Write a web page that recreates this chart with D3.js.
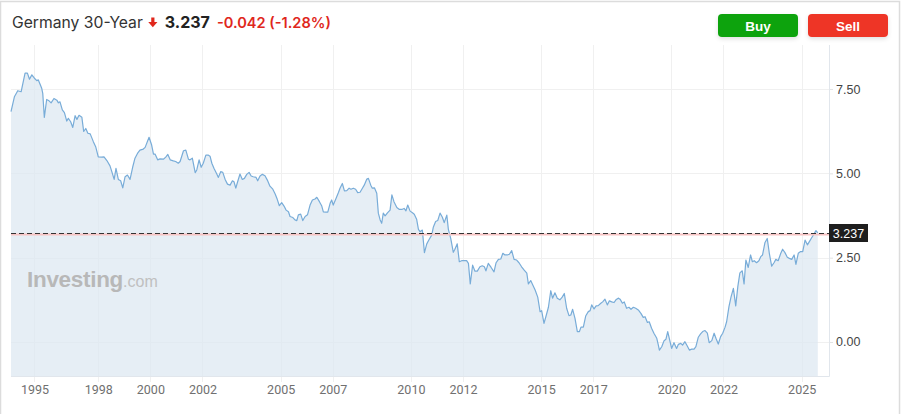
<!DOCTYPE html>
<html>
<head>
<meta charset="utf-8">
<script src="https://cdn.jsdelivr.net/npm/d3@7/dist/d3.min.js"></script>
<style>
  html, body { margin: 0; padding: 0; background: #fff; }
  svg { display: block; }
</style>
</head>
<body>
<svg id="chart" width="910" height="414"></svg>
<script>
// ---------------- DATA ----------------
const title = "Germany 30-Year";
const lastValue = 3.237;
const change = "-0.042";
const changePct = "(-1.28%)";

// decimal years
const years = [
1994.65,1994.78,1994.91,1995.04,1995.19,1995.28,1995.36,1995.45,1995.55,1995.64,1995.70,1995.83,1995.87,1995.93,
1996.02,1996.11,1996.19,1996.30,1996.41,1996.47,1996.53,1996.62,1996.70,1996.79,1996.85,1996.94,
1997.02,1997.11,1997.18,1997.26,1997.37,1997.44,1997.52,1997.60,1997.69,1997.81,1997.90,
1998.00,1998.13,1998.22,1998.33,1998.45,1998.52,1998.61,1998.68,1998.77,1998.86,1998.94,
1999.03,1999.12,1999.22,1999.32,1999.41,1999.52,1999.60,1999.73,1999.80,1999.95,
2000.05,2000.12,2000.18,2000.28,2000.37,2000.50,2000.59,2000.67,2000.76,2000.88,2000.97,
2001.07,2001.14,2001.27,2001.36,2001.46,2001.52,2001.61,2001.72,2001.78,2001.87,2001.95,
2002.03,2002.13,2002.23,2002.29,2002.36,2002.44,2002.55,2002.61,2002.70,2002.78,2002.87,2002.96,
2003.06,2003.15,2003.21,2003.28,2003.35,2003.44,2003.53,2003.61,2003.70,2003.79,2003.87,2003.95,
2004.06,2004.12,2004.21,2004.30,2004.40,2004.49,2004.59,2004.70,2004.79,2004.87,2004.95,
2005.04,2005.13,2005.21,2005.30,2005.36,2005.47,2005.55,2005.62,2005.68,2005.77,2005.85,2005.94,
2006.03,2006.13,2006.22,2006.32,2006.39,2006.49,2006.58,2006.64,2006.74,2006.81,2006.90,2006.96,
2007.02,2007.13,2007.22,2007.28,2007.37,2007.45,2007.54,2007.63,2007.70,2007.79,2007.88,2007.96,
2008.05,2008.14,2008.21,2008.31,2008.37,2008.46,2008.52,2008.60,2008.69,2008.75,2008.82,2008.88,2008.94,
2009.01,2009.10,2009.20,2009.27,2009.35,2009.46,2009.56,2009.65,2009.74,2009.81,2009.88,2009.97,
2010.06,2010.13,2010.22,2010.29,2010.35,2010.44,2010.52,2010.61,2010.70,2010.80,2010.86,2010.95,
2011.03,2011.12,2011.21,2011.28,2011.38,2011.44,2011.53,2011.63,2011.69,2011.78,2011.86,2011.95,
2012.05,2012.14,2012.21,2012.28,2012.37,2012.46,2012.55,2012.65,2012.74,2012.82,2012.88,2012.97,
2013.08,2013.19,2013.27,2013.36,2013.45,2013.53,2013.61,2013.70,2013.78,2013.87,2013.96,
2014.06,2014.15,2014.25,2014.35,2014.45,2014.51,2014.60,2014.68,2014.77,2014.87,2014.96,
2015.02,2015.11,2015.19,2015.28,2015.37,2015.44,2015.53,2015.62,2015.72,2015.81,2015.89,2015.98,
2016.07,2016.14,2016.21,2016.30,2016.39,2016.47,2016.53,2016.62,2016.71,2016.81,2016.88,2016.94,
2017.03,2017.11,2017.19,2017.29,2017.36,2017.45,2017.54,2017.62,2017.71,2017.80,2017.87,2017.96,
2018.03,2018.12,2018.19,2018.28,2018.37,2018.45,2018.54,2018.63,2018.73,2018.83,2018.92,2018.99,
2019.08,2019.15,2019.24,2019.33,2019.44,2019.50,2019.54,2019.63,2019.72,2019.79,2019.86,2019.95,
2020.01,2020.10,2020.20,2020.27,2020.36,2020.43,2020.52,2020.61,2020.69,2020.78,2020.87,2020.94,
2021.03,2021.12,2021.20,2021.29,2021.38,2021.45,2021.55,2021.64,2021.71,2021.80,2021.89,2021.97,
2022.06,2022.12,2022.21,2022.29,2022.38,2022.47,2022.55,2022.63,2022.72,2022.79,2022.86,2022.95,
2023.04,2023.11,2023.18,2023.27,2023.36,2023.43,2023.50,2023.59,2023.68,2023.76,2023.85,2023.94,
2024.01,2024.10,2024.20,2024.27,2024.36,2024.45,2024.53,2024.62,2024.71,2024.78,2024.87,2024.96,
2025.04,2025.13,2025.22,2025.29,2025.39,2025.47,2025.55,2025.62
];
const yields = [
6.83,7.27,7.45,7.42,7.97,7.97,7.79,7.92,7.82,7.75,7.77,7.52,7.37,6.66,
7.19,7.15,7.09,7.22,7.17,7.09,7.12,6.88,6.80,6.55,6.63,6.53,
6.36,6.71,6.60,6.72,6.66,6.24,6.33,6.19,6.17,5.94,5.79,
5.49,5.48,5.49,5.38,5.22,5.05,4.82,5.15,4.82,4.78,4.57,
4.90,4.95,4.82,5.18,5.45,5.61,5.69,5.72,5.77,6.07,
5.84,5.57,5.57,5.40,5.43,5.42,5.48,5.56,5.40,5.37,5.35,
5.30,5.35,5.67,5.69,5.42,5.40,5.45,5.02,5.10,5.40,5.18,
5.30,5.54,5.54,5.51,5.30,5.15,4.98,4.88,5.05,5.03,4.82,4.68,
4.65,4.78,4.75,4.56,4.75,4.98,4.82,4.85,4.97,5.03,4.92,4.90,
4.88,4.78,4.92,4.97,4.93,4.80,4.62,4.53,4.39,4.23,4.04,
4.13,4.03,3.91,3.86,3.72,3.69,3.62,3.60,3.77,3.79,3.60,3.72,
3.77,4.06,4.21,4.24,4.29,4.16,4.03,3.86,3.85,3.85,4.11,4.21,
4.06,4.26,4.43,4.56,4.70,4.48,4.49,4.56,4.53,4.56,4.53,4.43,
4.44,4.56,4.65,4.83,4.85,4.65,4.56,4.57,4.41,3.82,3.62,3.52,3.82,
3.74,3.83,3.91,4.36,4.16,3.99,3.93,3.93,3.96,3.89,4.06,3.88,
3.83,3.79,3.64,3.34,3.27,3.32,2.65,2.91,3.04,3.17,3.40,3.57,
3.60,3.82,3.70,3.54,3.76,3.34,3.07,2.66,2.75,2.91,2.38,2.41,
2.41,2.41,2.33,1.72,2.28,2.10,2.10,2.23,2.26,2.23,2.11,2.33,
2.21,2.08,2.35,2.45,2.46,2.63,2.58,2.58,2.60,2.71,2.45,
2.43,2.35,2.23,2.13,2.04,1.72,1.82,1.69,1.54,1.33,0.90,
0.93,0.55,0.77,1.03,1.52,1.30,1.46,1.30,1.25,1.33,1.44,1.00,
0.78,0.80,0.97,0.70,0.31,0.31,0.44,0.44,0.77,0.90,0.93,1.10,
0.98,1.07,1.08,1.15,1.19,1.27,1.10,1.22,1.19,1.17,1.25,1.30,
1.27,1.15,1.19,1.00,1.03,0.97,1.03,1.00,0.95,0.85,0.73,0.75,
0.58,0.60,0.41,0.26,0.11,-0.09,-0.24,-0.14,0.04,0.08,0.31,0.01,
-0.19,-0.02,-0.19,-0.07,-0.04,-0.09,0.01,-0.12,-0.24,-0.21,-0.21,-0.14,
0.14,0.24,0.31,0.34,0.26,-0.02,0.04,0.26,0.11,-0.06,0.16,0.26,
0.44,0.60,1.05,1.34,1.59,1.07,1.64,2.05,2.11,1.72,2.43,2.21,
2.58,2.38,2.41,2.35,2.41,2.53,2.58,2.94,3.07,2.63,2.25,2.35,
2.45,2.41,2.63,2.75,2.65,2.51,2.48,2.45,2.58,2.30,2.63,2.68,
2.68,3.02,2.88,2.97,3.10,3.20,3.30,3.237
];

const xTickYears  = [1995.55, 1998, 2000, 2002, 2005, 2007, 2010, 2012, 2015, 2017, 2020, 2022, 2025];
const xTickLabels = ["1995","1998","2000","2002","2005","2007","2010","2012","2015","2017","2020","2022","2025"];
const yTicks = [0, 2.5, 5, 7.5];
const xDomainEndYear = 2026.05;

// ---------------- HELPERS ----------------
function yearToDate(y) {
  const yr = Math.floor(y);
  const start = Date.UTC(yr, 0, 1), end = Date.UTC(yr + 1, 0, 1);
  return new Date(start + (y - yr) * (end - start));
}
const data = years.map((y, i) => ({ date: yearToDate(y), value: yields[i] }));

// ---------------- LAYOUT ----------------
const svg = d3.select("#chart");
const plot = { left: 11, right: 829, top: 45, bottom: 376 };

const x = d3.scaleUtc()
  .domain([data[0].date, yearToDate(xDomainEndYear)])
  .range([plot.left, plot.right]);
const y = d3.scaleLinear()
  .domain([-1.008, 8.805])
  .range([plot.bottom, plot.top]);

// card border
svg.append("rect").attr("x", 0.5).attr("y", 1.5).attr("width", 899).attr("height", 430)
  .attr("fill", "#fff").attr("stroke", "#dcdcdc").attr("stroke-width", 1.5);

// ---------------- HEADER ----------------
const hdr = svg.append("g").attr("font-family", "Inter, 'Noto Sans', Arial, sans-serif");
const t1 = hdr.append("text").attr("x", 12).attr("y", 28).attr("font-size", 15.7)
  .attr("fill", "#333").text(title);
const w1 = t1.node().getComputedTextLength();
const ax = 12 + w1 + 10;
// down arrow
hdr.append("path")
  .attr("d", `M${ax-1.6},17.5 h3.2 v4.5 h3 l-4.6,5.3 l-4.6,-5.3 h3 z`)
  .attr("fill", "#e0271c");
const t2 = hdr.append("text").attr("x", ax + 12).attr("y", 28).attr("font-size", 16)
  .attr("font-weight", 700).attr("fill", "#222").text(lastValue.toFixed(3));
const w2 = t2.node().getComputedTextLength();
hdr.append("text").attr("x", ax + 12 + w2 + 7).attr("y", 28).attr("font-size", 14.6)
  .attr("font-weight", 600).attr("fill", "#e0271c").text(change + " " + changePct);

// buttons
const defs = svg.append("defs");
const f = defs.append("filter").attr("id", "sh").attr("x", "-20%").attr("y", "-30%").attr("width", "140%").attr("height", "190%");
f.append("feDropShadow").attr("dx", 0).attr("dy", 2).attr("stdDeviation", 2).attr("flood-color", "#000").attr("flood-opacity", 0.12);
const buttons = [
  { label: "Buy", x: 718, color: "#0ea30c" },
  { label: "Sell", x: 808, color: "#ee3528" }
];
buttons.forEach(b => {
  svg.append("rect").attr("x", b.x).attr("y", 14).attr("width", 80).attr("height", 23)
    .attr("rx", 4).attr("fill", b.color).attr("filter", "url(#sh)");
  svg.append("text").attr("x", b.x + 40).attr("y", 30.5).attr("text-anchor", "middle")
    .attr("font-family", "Arial, 'Liberation Sans', sans-serif").attr("font-weight", 700)
    .attr("font-size", 13.5).attr("fill", "#fff").text(b.label);
});

// ---------------- GRID ----------------
const grid = svg.append("g");
grid.selectAll("line.hg").data(yTicks).join("line")
  .attr("x1", plot.left).attr("x2", plot.right)
  .attr("y1", d => Math.round(y(d)) + 0.5).attr("y2", d => Math.round(y(d)) + 0.5)
  .attr("stroke", "#f0f0f0");
grid.selectAll("line.vg").data(xTickYears).join("line")
  .attr("x1", d => Math.round(x(yearToDate(d))) + 0.5).attr("x2", d => Math.round(x(yearToDate(d))) + 0.5)
  .attr("y1", plot.top).attr("y2", plot.bottom + 6)
  .attr("stroke", "#f0f0f0");

// ---------------- AREA + LINE ----------------
const area = d3.area().x(d => x(d.date)).y0(plot.bottom).y1(d => y(d.value));
const line = d3.line().x(d => x(d.date)).y(d => y(d.value));
svg.append("path").datum(data).attr("d", area).attr("fill", "#dde8f1").attr("fill-opacity", 0.75);

// watermark
const wm = svg.append("text").attr("x", 27).attr("y", 287)
  .attr("font-family", "Arial, 'Liberation Sans', sans-serif");
wm.append("tspan").attr("font-size", 22.5).attr("font-weight", 700).attr("fill", "#b8b8b8")
  .attr("letter-spacing", -0.3).text("Investing");
wm.append("tspan").attr("font-size", 16).attr("fill", "#c0c0c0").text(".com");

svg.append("path").datum(data).attr("d", line).attr("fill", "none")
  .attr("stroke", "#78acd8").attr("stroke-width", 1.2).attr("stroke-linejoin", "round");

// ---------------- AXES ----------------
const xAxis = d3.axisBottom(x)
  .tickValues(xTickYears.map(yearToDate))
  .tickFormat((d, i) => xTickLabels[i])
  .tickSize(0).tickPadding(9);
const gx = svg.append("g").attr("transform", `translate(0,${plot.bottom})`).call(xAxis);
gx.select(".domain").remove();
gx.selectAll("text").attr("font-family", "Roboto, Arial, sans-serif").attr("font-size", 12.5).attr("fill", "#707070");

const yAxis = d3.axisRight(y).tickValues(yTicks).tickFormat(d3.format(".2f")).tickSize(4).tickPadding(3);
const gy = svg.append("g").attr("transform", `translate(${plot.right},0)`).call(yAxis);
gy.select(".domain").remove();
gy.selectAll("line").attr("stroke", "#e3e3e3");
gy.selectAll("text").attr("font-family", "Arial, 'Liberation Sans', sans-serif").attr("font-size", 12.5).attr("fill", "#444");

// frame lines
svg.append("line").attr("x1", plot.left).attr("x2", plot.right + 0.5)
  .attr("y1", plot.bottom + 0.5).attr("y2", plot.bottom + 0.5).attr("stroke", "#e1e6ec");
svg.append("line").attr("x1", plot.right + 0.5).attr("x2", plot.right + 0.5)
  .attr("y1", plot.top).attr("y2", plot.bottom + 0.5).attr("stroke", "#e1e6ec");

// ---------------- LAST PRICE LINE ----------------
const yl = Math.round(y(lastValue));
svg.append("line").attr("x1", plot.left).attr("x2", plot.right)
  .attr("y1", yl + 1.5).attr("y2", yl + 1.5).attr("stroke", "#f7c3c3").attr("stroke-width", 2);
svg.append("line").attr("x1", plot.left).attr("x2", plot.right)
  .attr("y1", yl + 0.5).attr("y2", yl + 0.5).attr("stroke", "#333").attr("stroke-width", 1)
  .attr("stroke-dasharray", "5,3");
svg.append("rect").attr("x", plot.right).attr("y", yl - 9).attr("width", 39).attr("height", 18)
  .attr("fill", "#1e1e1e");
svg.append("text").attr("x", plot.right + 19.5).attr("y", yl + 4.5).attr("text-anchor", "middle")
  .attr("font-family", "Arial, 'Liberation Sans', sans-serif").attr("font-size", 12.5)
  .attr("font-weight", 400).attr("fill", "#fff").text(lastValue.toFixed(3));
</script>
</body>
</html>
